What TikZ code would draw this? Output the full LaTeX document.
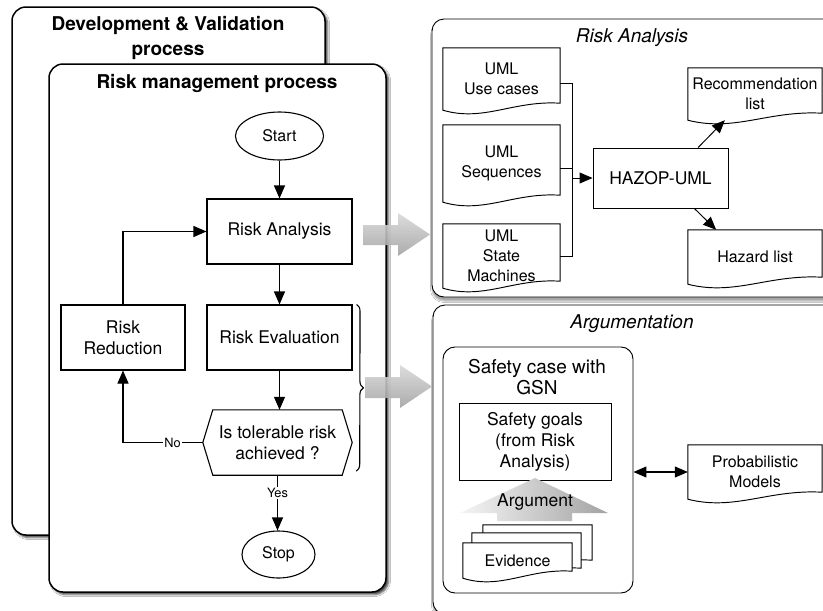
\documentclass[tikz,border=0pt]{standalone}
\usepackage{fontspec}
\setmainfont{TeX Gyre Heros}
\usetikzlibrary{arrows.meta,shapes.geometric,shadows.blur,calc,decorations.pathreplacing}
\newcommand{\ftitle}{\fontsize{19}{25}\selectfont}
\newcommand{\fsub}{\fontsize{19}{21}\selectfont}
\newcommand{\fmain}{\fontsize{17.5}{21}\selectfont}
\newcommand{\fdoc}{\fontsize{16}{19.5}\selectfont}
\newcommand{\fsmall}{\fontsize{12.8}{15}\selectfont}
\newcommand{\docdraw}[2][]{\draw[docline,#1] (#2.north west) -- (#2.north east) -- ($(#2.south east)+(0,-7)$) .. controls ($(#2.south west)!0.6!(#2.south east)+(0,-10)$) and ($(#2.south west)!0.35!(#2.south east)+(0,12)$) .. (#2.south west) -- cycle;}
\begin{document}
\begin{tikzpicture}[x=1pt,y=-1pt,
  cont/.style={draw, line width=1.5pt, rounded corners=14pt, fill=white, inner sep=0pt,
    blur shadow={shadow xshift=2.5pt, shadow yshift=-2.5pt, shadow blur radius=2pt, shadow opacity=75}},
  rcont/.style={draw, line width=0.9pt, rounded corners=12pt, fill=white, inner sep=0pt,
    blur shadow={shadow xshift=0pt, shadow yshift=-4pt, shadow blur radius=1.5pt, shadow opacity=35}},
  proc/.style={draw, line width=1.1pt, minimum width=145pt, minimum height=65pt, align=center, inner sep=0pt, font=\fmain},
  term/.style={draw, ellipse, line width=1.1pt, inner sep=0pt, font=\fdoc},
  docnode/.style={inner sep=0pt, align=center, font=\fdoc},
  docline/.style={line width=0.95pt},
  arr/.style={line width=1.1pt, -{Triangle[length=13pt,width=11pt]}},
  dbl/.style={line width=1.1pt, {Triangle[length=13pt,width=11pt]}-{Triangle[length=13pt,width=11pt]}},
  lbl/.style={fill=white, inner sep=1.5pt, font=\fsmall},
  gshade/.style={top color=gray!30, bottom color=gray!72, fill opacity=0.9, opacity=0.9}
]
\fill[white] (0,0) rectangle (823,611);
\useasboundingbox (0,0) rectangle (823,611);

% left containers
\node[cont, minimum width=313pt, minimum height=528pt] (dev) at (168.5,271) {};
\node[font=\ftitle\bfseries, align=center] (devt) at (168,37.5) {Development \& Validation\\process};
\node[cont, minimum width=337pt, minimum height=528pt] (rm) at (217.5,328) {};
\node[font=\ftitle\bfseries] (rmt) at (217,83) {Risk management process};

% flowchart
\node[term, minimum width=88pt, minimum height=48pt] (start) at (279.5,136) {Start};
\node[proc] (ra) at (279.5,231.5) {Risk Analysis};
\node[proc] (re) at (279.5,337.5) {Risk Evaluation};
\node[proc, minimum width=124pt] (rr) at (123,337.5) {Risk\\Reduction};
\node[inner sep=0pt, minimum width=149pt, minimum height=65pt, align=center, font=\fmain] (dec) at (277.5,442.5) {Is tolerable risk\\achieved ?};
\draw[line width=1.1pt] (dec.west) -- ($(dec.north west)+(10,0)$) -- ($(dec.north east)+(-10,0)$) -- (dec.east) -- ($(dec.south east)+(-10,0)$) -- ($(dec.south west)+(10,0)$) -- cycle;
\node[term, minimum width=73pt, minimum height=47pt] (stop) at (278.5,554.5) {Stop};

\draw[arr] (start) -- (ra);
\draw[arr] (ra) -- (re);
\draw[arr] (re.south) -- (re.south |- dec.north);
\draw[arr] (dec.south) -- node[lbl, pos=0.32] (yes) {Yes} (dec.south |- stop.north);
\draw[arr] (dec.west) -| node[lbl, pos=0.19] (no) {No} (rr.south);
\draw[arr] (rr.north) |- (ra.west);
\draw[line width=1.1pt, decorate, decoration={brace, amplitude=7pt}] ($(re.north east)+(4,0)$) -- ($(dec.south east)+(4,-4)$);

% right top: Risk Analysis
\node[rcont, minimum width=403pt, minimum height=278pt] (rabox) at (633.5,158) {};
\node[font=\ftitle\itshape] (rat) at (632,38) {Risk Analysis};
\node[docnode, minimum width=117pt, minimum height=62pt] (uc) at (501.5,79) {UML\\Use cases};
\node[docnode, minimum width=117pt, minimum height=77pt] (seq) at (501.5,163.5) {UML\\Sequences};
\node[docnode, minimum width=117pt, minimum height=64pt, font=\fontsize{16}{20}\selectfont] (sm) at (501.5,256) {UML\\State\\Machines};
\docdraw{uc}
\docdraw{seq}
\docdraw{sm}
\node[draw, line width=0.95pt, minimum width=135pt, minimum height=60pt, inner sep=0pt, font=\fmain] (hz) at (660.5,178) {HAZOP-UML};
\node[docnode, minimum width=134pt, minimum height=52pt] (rec) at (755,94) {Recommendation\\list};
\node[docnode, minimum width=134pt, minimum height=54pt] (haz) at (755,257) {Hazard list};
\docdraw{rec}
\docdraw{haz}
\coordinate (bus) at (572,178);
\draw[line width=0.95pt] ($(uc.east)+(0,4)$) -| (bus);
\draw[line width=0.95pt] ($(seq.east)+(0,5)$) -| (bus);
\draw[line width=0.95pt] (sm.east) -| (bus);
\draw[arr, line width=0.95pt] (bus) -- (hz.west);
\draw[arr, line width=0.95pt] (hz.39) -- (rec.221);
\draw[arr, line width=0.95pt] (hz.318) -- (haz.145);

% right bottom: Argumentation
\node[rcont, minimum width=402pt, minimum height=309pt] (argbox) at (634,459.5) {};
\node[font=\ftitle\itshape] (argt) at (632,324) {Argumentation};
\node[draw, line width=0.95pt, rounded corners=12pt, minimum width=190pt, minimum height=246pt, inner sep=0pt] (sc) at (538,470) {};
\node[font=\fsub, align=center] (sct) at (537,377.5) {Safety case with\\GSN};
\node[draw, line width=0.95pt, minimum width=152pt, minimum height=77pt, inner sep=0pt, align=center, font=\fmain] (sg) at (535,441.5) {Safety goals\\(from Risk\\Analysis)};
\shade[left color=gray!8, right color=gray!72] (460,513) -- (535,478) -- (608,513) -- (572,513) -- (572,521) -- (497,521) -- (497,513) -- cycle;
\node[font=\fmain] (argu) at (535,502) {Argument};
\node[docnode, minimum width=109pt, minimum height=42pt] (ev3) at (537.5,546) {};
\node[docnode, minimum width=109pt, minimum height=42pt] (ev2) at (526.5,554) {};
\node[docnode, minimum width=109pt, minimum height=35pt] (ev1) at (517.5,560.5) {};
\docdraw[fill=white]{ev3}
\docdraw[fill=white]{ev2}
\docdraw[fill=white]{ev1}
\node[font=\fdoc] (evt) at (ev1) {Evidence};
\node[docnode, minimum width=134pt, minimum height=54pt] (prob) at (755,472) {Probabilistic\\Models};
\docdraw{prob}
\draw[dbl] (sc.east |- prob.west) -- (prob.west);

% gray transfer arrows
\shade[gshade] (363,225) -- (398,225) -- (398,213) -- (430,234.5) -- (398,256) -- (398,245) -- (363,245) -- cycle;
\shade[gshade] (365,377) -- (400,377) -- (400,365) -- (432,386.5) -- (400,408) -- (400,398) -- (365,398) -- cycle;
\end{tikzpicture}
\end{document}
